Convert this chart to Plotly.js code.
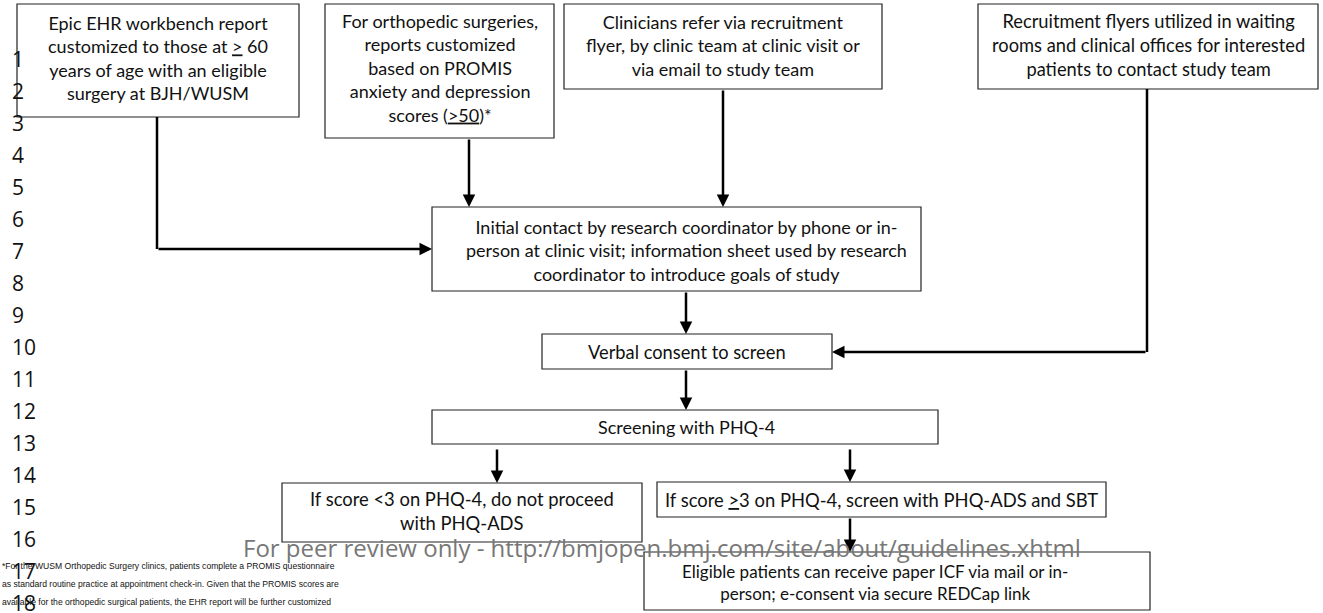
<!DOCTYPE html>
<html>
<head>
<meta charset="utf-8">
<script src="https://cdn.plot.ly/plotly-3.0.1.min.js"></script>
<style>html,body{margin:0;padding:0;background:#fff;}#chart{width:1323px;height:613px;}</style>
</head>
<body>
<div id="chart"></div>
<script>
// ---- content ----
const lineNumbers = ['1','2','3','4','5','6','7','8','9','10','11','12','13','14','15','16','17','18'];

const nodeLabels = [
  'Epic EHR workbench report<br>customized to those at <u>&gt;</u> 60<br>years of age with an eligible<br>surgery at BJH/WUSM',
  'For orthopedic surgeries,<br>reports customized<br>based on PROMIS<br>anxiety and depression<br>scores (<u>&gt;50</u>)*',
  'Clinicians refer via recruitment<br>flyer, by clinic team at clinic visit or<br>via email to study team',
  'Recruitment flyers utilized in waiting<br>rooms and clinical offices for interested<br>patients to contact study team',
  'Initial contact by research coordinator by phone or in-<br>person at clinic visit; information sheet used by research<br>coordinator to introduce goals of study',
  'Verbal consent to screen',
  'Screening with PHQ-4',
  'If score &lt;3 on PHQ-4, do not proceed<br>with PHQ-ADS',
  'If score <u>&gt;</u>3 on PHQ-4, screen with PHQ-ADS and SBT',
  'Eligible patients can receive paper ICF via mail or in-<br>person; e-consent via secure REDCap link'
];

const watermarkText = 'For peer review only - http://bmjopen.bmj.com/site/about/guidelines.xhtml';

const footnoteLines = [
  '*For the WUSM Orthopedic Surgery clinics, patients complete a PROMIS questionnaire',
  'as standard routine practice at appointment check-in. Given that the PROMIS scores are',
  'available for the orthopedic surgical patients, the EHR report will be further customized'
];

// ---- layout geometry (pixel space) ----
const boxes = [
  [17, 4, 299, 117],
  [325, 4, 554, 138],
  [564, 4, 882, 89],
  [978, 4, 1318, 89],
  [432, 207, 921, 291],
  [542, 334, 832, 369],
  [432, 410, 938, 444],
  [282, 483, 642, 542],
  [657, 482, 1106, 517],
  [644, 552, 1150, 610]
];
// text anchor inside each box [x, y]
const textPos = [
  [158, 58], [440, 68], [723, 45], [1148, 45], [686, 250], [687, 352], [686, 427], [462, 511], [881, 500], [875, 582]
];
const boxFont = [18,18,18,18.3,18,18.3,18,18.4,18.4,17];
const boxFamily = ['Lato','Lato','Lato','Lato','Lato','Lato','Lato','Lato','Lato','Liberation Sans Narrow'];

// connectors: polylines, arrow at last point
const connectors = [
  [[157,117],[157,249],[432,249]],
  [[469,138],[469,207]],
  [[723,89],[723,207]],
  [[686,291],[686,334]],
  [[1147,89],[1147,352],[832,352]],
  [[686,369],[686,410]],
  [[497,448],[497,483]],
  [[850,448],[850,482]],
  [[850,517],[850,552]]
];

const shapes = [];
const annotations = [];

boxes.forEach((b, i) => {
  shapes.push({type:'rect', xref:'x', yref:'y', x0:b[0], y0:b[1], x1:b[2], y1:b[3],
    line:{color:'#222', width:1.2}, fillcolor:'rgba(255,255,255,0)', layer:'above'});
  annotations.push({xref:'x', yref:'y', x:textPos[i][0], y:textPos[i][1], text:nodeLabels[i],
    showarrow:false, align:'center', xanchor:'center', yanchor:'middle',
    font:{family:boxFamily[i]+', Lato, sans-serif', size:boxFont[i], color:'#111'}});
});

connectors.forEach(pts => {
  for (let k = 0; k < pts.length - 2; k++) {
    shapes.push({type:'line', xref:'x', yref:'y', x0:pts[k][0], y0:pts[k][1], x1:pts[k+1][0], y1:pts[k+1][1],
      line:{color:'#000', width:2.5}});
  }
  const a = pts[pts.length-2], e = pts[pts.length-1];
  annotations.push({xref:'x', yref:'y', axref:'x', ayref:'y', x:e[0], y:e[1], ax:a[0], ay:a[1],
    text:'', showarrow:true, arrowhead:2, arrowsize:1, arrowwidth:2.5, arrowcolor:'#000', standoff:0, startstandoff:0});
});

lineNumbers.forEach((t, i) => {
  annotations.push({xref:'x', yref:'y', x:10, y:59 + i*32, text:t, showarrow:false,
    xanchor:'left', yanchor:'middle', font:{family:'Open Sans, sans-serif', size:21, color:'#111'}});
});

annotations.push({xref:'x', yref:'y', x:662, y:547, text:watermarkText, showarrow:false,
  xanchor:'center', yanchor:'middle', font:{family:'Open Sans, sans-serif', size:24, color:'#777'}});

footnoteLines.forEach((t, i) => {
  annotations.push({xref:'x', yref:'y', x:0, y:566 + i*18, text:t, showarrow:false,
    xanchor:'left', yanchor:'middle', font:{family:'Liberation Sans Narrow, sans-serif', size:8.6, color:'#111'}});
});

const layout = {
  width:1323, height:613,
  margin:{l:0, r:0, t:0, b:0},
  paper_bgcolor:'#fff', plot_bgcolor:'#fff',
  xaxis:{range:[0,1323], visible:false, fixedrange:true},
  yaxis:{range:[613,0], visible:false, fixedrange:true},
  showlegend:false,
  shapes:shapes,
  annotations:annotations
};

Plotly.newPlot('chart', [{x:[], y:[], type:'scatter', mode:'markers', hoverinfo:'skip'}], layout, {staticPlot:true, displayModeBar:false});
</script>
</body>
</html>
